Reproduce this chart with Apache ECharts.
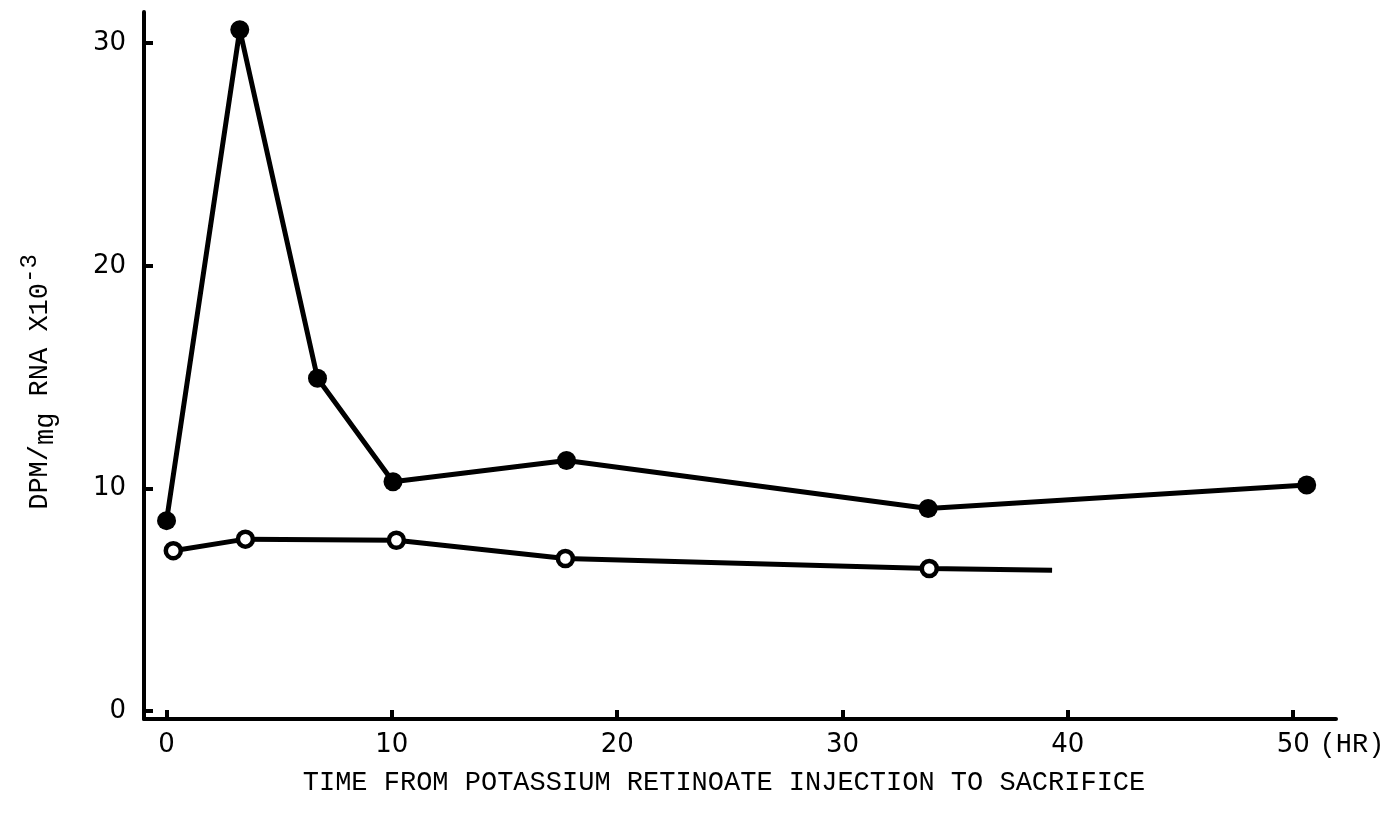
<!DOCTYPE html>
<html>
<head>
<meta charset="utf-8">
<script src="https://cdn.jsdelivr.net/npm/echarts@6/dist/echarts.min.js"></script>
<style>
  html, body { margin: 0; padding: 0; background: #fff; }
  #chart { width: 1392px; height: 824px; }
</style>
</head>
<body>
<div id="chart"></div>
<script>
// Hours after injection and labelled RNA (DPM/mg RNA x10^-3)
const treatedHours = [0, 3.25, 6.7, 10.05, 17.75, 33.8, 50.6];
const treatedDpm   = [8.55, 30.6, 14.95, 10.3, 11.25, 9.1, 10.15];

const controlHours = [0.3, 3.5, 10.2, 17.7, 33.85, 39.3];
const controlDpm   = [7.2, 7.72, 7.67, 6.85, 6.4, 6.32];
// the last control value is the end of the drawn line, without a marker
const controlMarked = [true, true, true, true, true, false];

const xTicks = [0, 10, 20, 30, 40, 50];
const yTicks = [0, 10, 20, 30];

const mono = 'Liberation Mono';
const sans = 'DejaVu Sans';

const treatedData = treatedHours.map((h, i) => [h, treatedDpm[i]]);
const controlData = controlHours.map((h, i) =>
  controlMarked[i] ? [h, controlDpm[i]] : { value: [h, controlDpm[i]], symbol: 'none' });

const chart = echarts.init(document.getElementById('chart'));
chart.setOption({
  backgroundColor: '#fff',
  animation: false,
  grid: { left: 144, right: 56, top: 12, bottom: 105 },
  xAxis: {
    type: 'value',
    min: -1, max: 51.9,
    axisLine: { onZero: false, lineStyle: { color: '#000', width: 4 } },
    axisTick: { show: true, inside: true, length: 9, customValues: xTicks,
                lineStyle: { color: '#000', width: 4 } },
    axisLabel: { customValues: xTicks, margin: 13, color: '#000',
                 fontFamily: sans, fontSize: 26 },
    splitLine: { show: false }
  },
  yAxis: {
    type: 'value',
    min: -0.36, max: 31.4,
    axisLine: { show: true, onZero: false, lineStyle: { color: '#000', width: 4 } },
    axisTick: { show: true, inside: true, length: 9, customValues: yTicks,
                lineStyle: { color: '#000', width: 4 } },
    axisLabel: { customValues: yTicks, margin: 18, color: '#000',
                 fontFamily: sans, fontSize: 26 },
    splitLine: { show: false }
  },
  graphic: [
    {
      type: 'text', x: 724, y: 783,
      style: { text: 'TIME FROM POTASSIUM RETINOATE INJECTION TO SACRIFICE',
               fontFamily: mono, fontSize: 27, fill: '#000',
               align: 'center', verticalAlign: 'middle' }
    },
    {
      type: 'text', x: 1352, y: 745,
      style: { text: '(HR)', fontFamily: mono, fontSize: 27, fill: '#000',
               align: 'center', verticalAlign: 'middle' }
    },
    {
      type: 'text', x: 40, y: 382, rotation: Math.PI / 2,
      style: {
        text: '{a|DPM/}{b|mg}{a| RNA X10}{c|-3}',
        align: 'center', verticalAlign: 'middle', fill: '#000',
        rich: {
          a: { fontFamily: mono, fontSize: 27, fill: '#000', verticalAlign: 'middle' },
          b: { fontFamily: mono, fontSize: 27, fill: '#000', verticalAlign: 'middle', padding: [12, 0, 0, 0] },
          c: { fontFamily: mono, fontSize: 24, fill: '#000', verticalAlign: 'middle', padding: [0, 0, 20, 0] }
        }
      }
    }
  ],
  series: [
    {
      name: 'treated',
      type: 'line',
      data: treatedData,
      symbol: 'circle',
      symbolSize: 19,
      lineStyle: { color: '#000', width: 5 },
      itemStyle: { color: '#000' },
      z: 3
    },
    {
      name: 'control',
      type: 'line',
      data: controlData,
      symbol: 'circle',
      symbolSize: 15,
      lineStyle: { color: '#000', width: 5 },
      itemStyle: { color: '#fff', borderColor: '#000', borderWidth: 4.5 },
      z: 2
    }
  ]
});
</script>
</body>
</html>
